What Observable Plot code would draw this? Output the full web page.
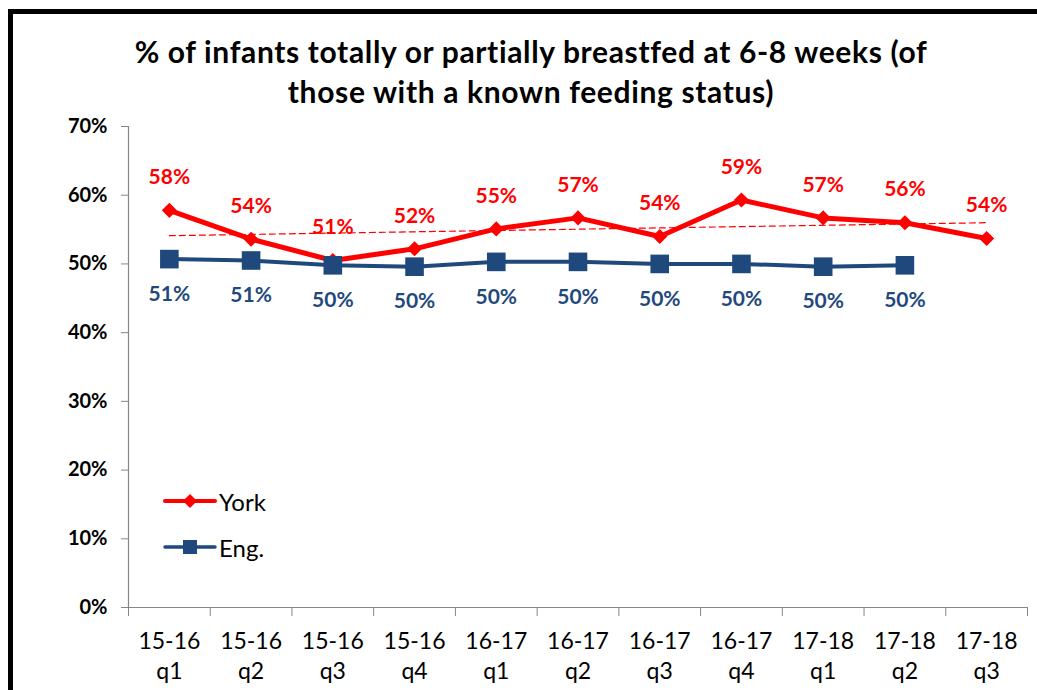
<!DOCTYPE html>
<html><head><meta charset="utf-8">
<script src="https://cdn.jsdelivr.net/npm/d3@7"></script>
<script src="https://cdn.jsdelivr.net/npm/@observablehq/plot@0.6"></script>
<style>
body{margin:0;background:#fff;}
#wrap{position:relative;width:1037px;height:690px;overflow:hidden;background:#fff;font-family:Lato, "Open Sans", sans-serif;}
#frame{position:absolute;left:8px;top:9px;width:1100px;height:800px;border-left:5px solid #000;border-top:5px solid #000;}
#title{position:absolute;left:0;width:1062px;top:31px;text-align:center;font-weight:bold;font-size:30px;letter-spacing:0.65px;line-height:40px;color:#000;}
#chart{position:absolute;left:0;top:0;}
#legend{position:absolute;left:163px;top:478px;}
.row{display:flex;align-items:center;height:46px;}
.row span{font-size:24px;color:#000;margin-left:2px;}
</style>
</head><body>
<div id="wrap">
  <div id="frame"></div>
  <div id="chart"></div>
  <div id="title"></div>
  <div id="legend"></div>
</div>
<script>
const titleText = "% of infants totally or partially breastfed at 6-8 weeks (of\nthose with a known feeding status)";
const categories = ["15-16 q1","15-16 q2","15-16 q3","15-16 q4","16-17 q1","16-17 q2","16-17 q3","16-17 q4","17-18 q1","17-18 q2","17-18 q3"];
const york = [57.8, 53.6, 50.5, 52.2, 55.1, 56.7, 54.0, 59.3, 56.7, 56.0, 53.7];
const eng = [50.7, 50.5, 49.8, 49.6, 50.3, 50.3, 50.0, 50.0, 49.6, 49.8];
const yorkLabels = ["58%","54%","51%","52%","55%","57%","54%","59%","57%","56%","54%"];
const engLabels = ["51%","51%","50%","50%","50%","50%","50%","50%","50%","50%"];
const yTicks = [0, 10, 20, 30, 40, 50, 60, 70];
const seriesNames = ["York", "Eng."];

const red = "#FF0000", blue = "#1F497D", axisGrey = "#868686";
const yorkData = york.map((v, i) => ({i, v, label: yorkLabels[i]}));
const engData = eng.map((v, i) => ({i, v, label: engLabels[i]}));
const n = categories.length;

document.getElementById("title").innerHTML = titleText.split("\n").join("<br>");

const chart = Plot.plot({
  width: 1037, height: 690,
  marginTop: 126, marginBottom: 83, marginLeft: 128, marginRight: 10,
  style: {fontFamily: "Lato, 'Open Sans', sans-serif", background: "transparent", overflow: "visible"},
  x: {type: "linear", domain: [-0.5, n - 0.5]},
  y: {domain: [0, 70]},
  marks: [
    Plot.ruleY([0], {stroke: axisGrey, strokeWidth: 1.2}),
    Plot.ruleX([-0.5], {stroke: axisGrey, strokeWidth: 1.2}),
    Plot.axisY({ticks: yTicks, tickFormat: d => d + "%", tickSize: 7, tickPadding: 14, fontSize: 20, fontWeight: "bold", stroke: axisGrey, fill: "#000", label: null}),
    Plot.axisX({ticks: d3.range(n), tickFormat: i => categories[i].replace(" ", "\n"), tickSize: 0, tickPadding: 20, fontSize: 23, lineHeight: 1.3, fill: "#000", label: null}),
    Plot.axisX({ticks: d3.range(n + 1).map(i => i - 0.5), tickFormat: () => "", tickSize: 9, stroke: axisGrey, label: null}),
    Plot.linearRegressionY(yorkData, {x: "i", y: "v", ci: 0, stroke: red, strokeWidth: 1.2, strokeDasharray: "6,4"}),
    Plot.line(yorkData, {x: "i", y: "v", stroke: red, strokeWidth: 5}),
    Plot.dot(yorkData, {x: "i", y: "v", symbol: "diamond2", r: 6.8, fill: red}),
    Plot.line(engData, {x: "i", y: "v", stroke: blue, strokeWidth: 4}),
    Plot.dot(engData, {x: "i", y: "v", symbol: "square", r: 10.5, fill: blue}),
    Plot.text(yorkData, {x: "i", y: "v", text: "label", dy: -33, fill: red, fontSize: 21, fontWeight: "bold"}),
    Plot.text(engData, {x: "i", y: "v", text: "label", dy: 35, fill: blue, fontSize: 21, fontWeight: "bold"})
  ]
});
document.getElementById("chart").appendChild(chart);

// legend
const legend = d3.select("#legend");
const legendItems = [
  {name: seriesNames[0], color: red, sym: "diamond"},
  {name: seriesNames[1], color: blue, sym: "square"}
];
legendItems.forEach(it => {
  const row = legend.append("div").attr("class", "row");
  const svg = row.append("svg").attr("width", 54).attr("height", 20);
  svg.append("line").attr("x1", 2).attr("x2", 52).attr("y1", 10).attr("y2", 10)
    .attr("stroke", it.color).attr("stroke-width", it.sym === "diamond" ? 4 : 3.5).attr("stroke-linecap", "round");
  if (it.sym === "diamond") {
    svg.append("path").attr("d", "M27,3L34,10L27,17L20,10Z").attr("fill", it.color);
  } else {
    svg.append("rect").attr("x", 20).attr("y", 3).attr("width", 14).attr("height", 14).attr("fill", it.color);
  }
  row.append("span").text(it.name);
});
</script>
</body></html>
